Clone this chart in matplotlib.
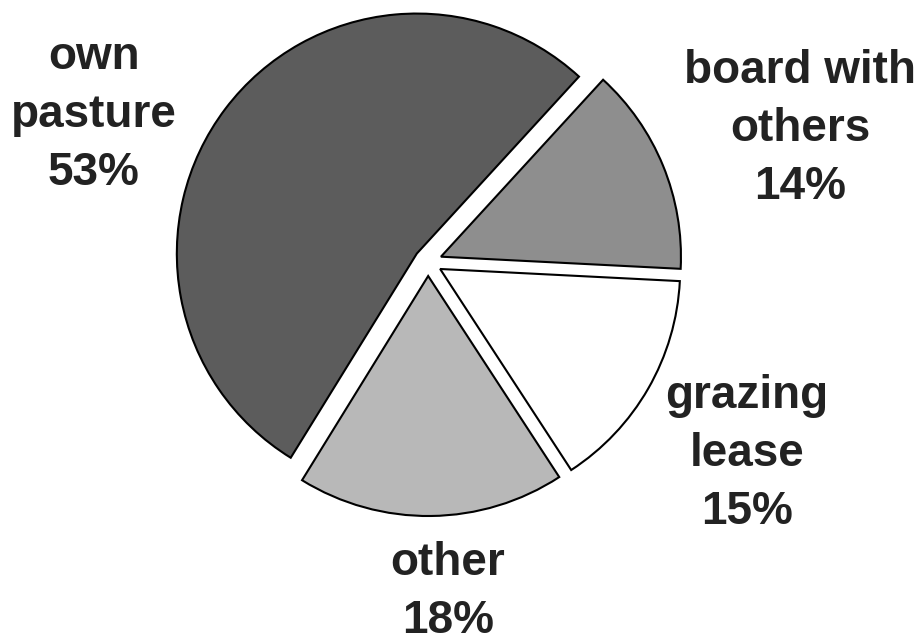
import matplotlib
matplotlib.use("Agg")
import matplotlib.pyplot as plt

# slice data, counterclockwise from the upper right
categories = ["own pasture", "other", "grazing lease", "board with others"]
shares = [53, 18, 15, 14]
label_text = ["own\npasture\n53%", "other\n18%", "grazing\nlease\n15%", "board with\nothers\n14%"]
colors = ["#5c5c5c", "#b8b8b8", "#ffffff", "#8e8e8e"]

# label centres in pixels (x from left, y from top)
label_x = [94, 448, 747, 800]
label_y = [115, 592, 454, 129]

W, H = 919, 641
fig = plt.figure(figsize=(W / 100, H / 100), dpi=100)
ax = fig.add_axes([0, 0, 1, 1])

# explode is an absolute offset in data units (pixels here)
ax.pie(shares, colors=colors, startangle=47.5, counterclock=True,
       explode=[14] * len(shares), radius=240, center=(428, H - 262),
       wedgeprops=dict(edgecolor="black", linewidth=1.5))

for txt, x, y in zip(label_text, label_x, label_y):
    ax.text(x, H - y, txt, ha="center", va="center", fontsize=33,
            fontweight="bold", family="Liberation Sans", color="#222222",
            linespacing=1.4)

ax.set_xlim(0, W)
ax.set_ylim(0, H)
ax.set_aspect("equal")
ax.axis("off")

fig.savefig("out.png", dpi=100)
